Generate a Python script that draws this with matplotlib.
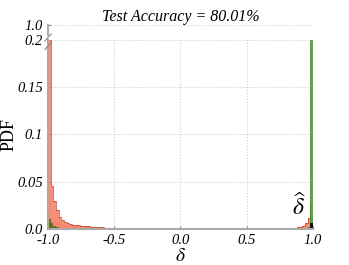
import numpy as np
import matplotlib
matplotlib.use("Agg")
import matplotlib.pyplot as plt

plt.rcParams['font.family'] = ['Liberation Serif', 'DejaVu Serif']
plt.rcParams['mathtext.fontset'] = 'stix'

# histogram of delta, 100 bins over [-1, 1]
edges = np.linspace(-1.0, 1.0, 101)

# values per bin, only leading / trailing bins are listed, rest is the flat tail
red_head = [0.62, 0.045, 0.030, 0.020, 0.013, 0.009, 0.007, 0.006, 0.005, 0.0045,
            0.004, 0.0038, 0.0035, 0.0033, 0.003, 0.0028, 0.0025, 0.0022, 0.002, 0.0018,
            0.0016, 0.0015, 0.0014, 0.0013, 0.0012]
red_tail = [0.001, 0.0011, 0.0013, 0.0015, 0.0018, 0.0022, 0.003, 0.006, 0.012, 0.028]
red_flat = 0.001

yellow_head = [0.03, 0.014, 0.009, 0.007, 0.006, 0.005, 0.0045, 0.004, 0.0038, 0.0035,
               0.003, 0.0028, 0.0025, 0.0022, 0.002, 0.0018, 0.0016, 0.0015]
yellow_flat = 0.0008

olive_head = [0.011, 0.006, 0.003, 0.002, 0.0015, 0.001]
green_tail = [0.0, 0.0, 0.0, 0.0, 0.0, 0.0, 0.0, 0.0, 0.002, 0.55]
black_tail = [0.0, 0.0, 0.0, 0.0, 0.0, 0.0, 0.0, 0.0, 0.001, 0.006]


def build(head, flat, tail=None):
    v = np.full(100, flat)
    v[:len(head)] = head
    if tail is not None:
        v[100 - len(tail):] = tail
    return v


red = build(red_head, red_flat, red_tail)
yellow = build(yellow_head, yellow_flat)
olive = build(olive_head, 0.0)
green = build([], 0.0, green_tail)
black = build([], 0.0, black_tail)

fig = plt.figure(figsize=(3.49, 2.65), dpi=100)
ax = fig.add_axes([0.1375, 0.136, 0.759, 0.713])
axt = fig.add_axes([0.1375, 0.868, 0.759, 0.038])

for a in (ax, axt):
    a.stairs(yellow, edges, fill=True, color='#e3cf7a', alpha=0.8)
    a.stairs(red, edges, fill=True, color='#f5826b', alpha=0.9)
    a.stairs(red, edges, color='#d23a22', lw=0.5)
    a.stairs(olive, edges, fill=True, color='#4f6b22', alpha=0.9)
    a.stairs(green, edges, fill=True, color='#5aa83c', edgecolor='#3f8a2a', lw=0.5)
    a.stairs(black, edges, fill=True, color='#111111')
    a.set_xlim(-1.0, 1.0)
    for s in ('top', 'right'):
        a.spines[s].set_visible(False)
    a.spines['left'].set_color('#aaaaaa')
    a.spines['left'].set_linewidth(1.5)
    a.tick_params(colors='#888888', labelcolor='black', direction='in', length=2,
                  labelsize=10.5)

ax.set_ylim(0, 0.2)
ax.set_yticks([0.0, 0.05, 0.1, 0.15, 0.2])
ax.set_yticklabels(['0.0', '0.05', '0.1', '0.15', '0.2'], style='italic')
ax.set_xticks([-1.0, -0.5, 0.0, 0.5, 1.0])
ax.set_xticklabels(['-1.0', '-0.5', '0.0', '0.5', '1.0'], style='italic')
ax.spines['bottom'].set_color('#aaaaaa')
ax.spines['bottom'].set_linewidth(1.5)
ax.grid(True, ls=':', color='#cccccc', lw=0.8)
ax.set_axisbelow(True)
ax.set_ylabel('PDF', fontsize=13, labelpad=0)
ax.set_xlabel(r'$\delta$', fontsize=14, labelpad=1)
ax.text(0.955, 0.01, r'$\widehat{\delta}$', fontsize=17, ha='right', va='bottom')

axt.set_ylim(0.95, 1.0)
axt.set_yticks([1.0])
axt.set_yticklabels(['1.0'], style='italic')
axt.set_xticks([])
axt.spines['bottom'].set_visible(False)
axt.grid(True, axis='y', ls=':', color='#cccccc', lw=0.8)
axt.set_title('Test Accuracy = 80.01%', style='italic', fontsize=11.5, pad=2)

# break marks on the left spine
for yy in (-0.25, -1.1):
    axt.plot([-0.012, 0.012], [yy - 0.35, yy + 0.35], transform=axt.transAxes,
             color='#888888', lw=0.8, clip_on=False)

fig.savefig('out.png', dpi=100)
